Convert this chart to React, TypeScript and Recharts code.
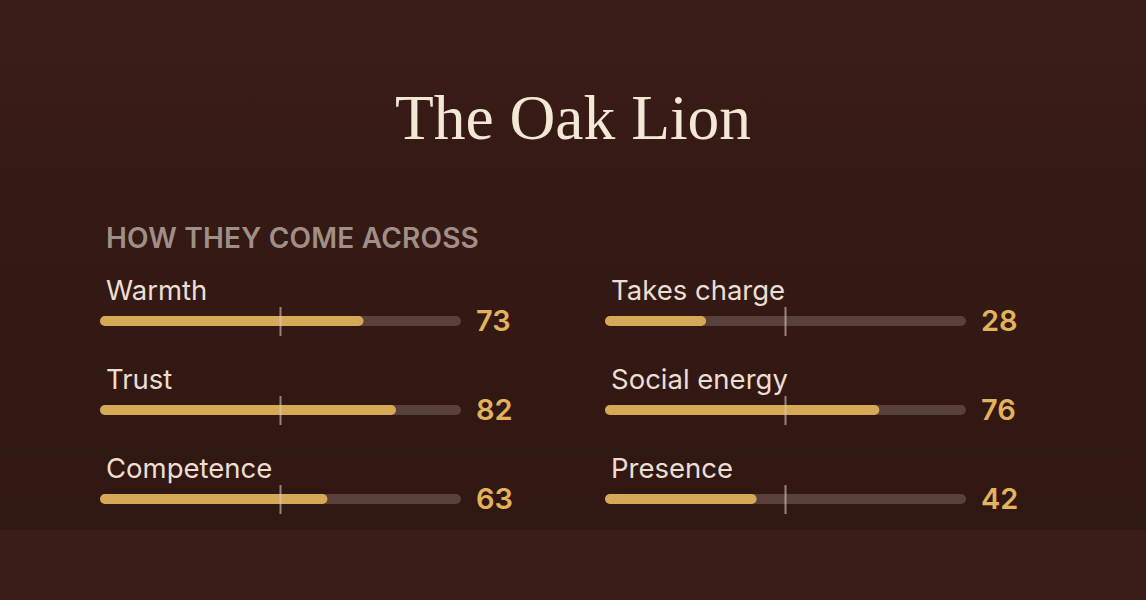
import { BarChart, Bar, XAxis, YAxis, LabelList } from "recharts";

const leftTraits = ["Warmth", "Trust", "Competence"];
const leftScores = [73, 82, 63];
const rightTraits = ["Takes charge", "Social energy", "Presence"];
const rightScores = [28, 76, 42];

const title = "The Oak Lion";
const subtitle = "HOW THEY COME ACROSS";

const SANS = "Inter, 'Noto Sans', sans-serif";

function Track(props: any) {
    const { x, y, width, height } = props;
    return <rect x={x} y={y} width={width} height={height} rx={height / 2} fill="#5a403a" />;
}

function GoldBar(props: any) {
    const { x, y, width, height, background } = props;
    const mid = background.x + background.width / 2;
    const cy = y + height / 2;
    return (
        <g>
            <rect x={x} y={y} width={width} height={height} rx={height / 2} fill="#d6a956" />
            <line x1={mid} x2={mid} y1={cy - 14} y2={cy + 15} stroke="#d8ccc6" strokeOpacity={0.6} strokeWidth={2} />
        </g>
    );
}

function NameLabel(props: any) {
    const { x, y, value } = props;
    return (
        <text x={x + 6} y={y - 16} fill="#ecdfd2" fontSize={27.5} fontFamily={SANS}>
            {value}
        </text>
    );
}

function ScoreLabel(props: any) {
    const { y, height, value } = props;
    return (
        <text x={476} y={y + height / 2 + 10} fill="#e2b35c" fontSize={29} fontWeight={600} fontFamily={SANS}>
            {value}
        </text>
    );
}

function Column({ names, scores }: { names: string[]; scores: number[] }) {
    const rows = names.map((name, i) => ({ name, score: scores[i] }));
    return (
        <BarChart
            width={560}
            height={297}
            data={rows}
            layout="vertical"
            margin={{ top: 30, right: 99, bottom: 0, left: 100 }}
        >
            <XAxis type="number" domain={[0, 100]} hide />
            <YAxis type="category" dataKey="name" hide />
            <Bar
                dataKey="score"
                barSize={10}
                radius={5}
                fill="#d6a956"
                background={<Track />}
                shape={<GoldBar />}
                isAnimationActive={false}
            >
                <LabelList dataKey="name" content={<NameLabel />} />
                <LabelList dataKey="score" content={<ScoreLabel />} />
            </Bar>
        </BarChart>
    );
}

export default function App() {
    return (
        <div style={{ position: "relative", width: 1146, height: 600, background: "#3a1c18", overflow: "hidden" }}>
            <style>{`body{margin:0}`}</style>
            <div
                style={{
                    position: "absolute",
                    left: 0,
                    top: 40,
                    width: 1146,
                    height: 490,
                    background: "linear-gradient(180deg, #3a1c18 0%, #341914 35%, #311712 100%)",
                }}
            />
            <div
                style={{
                    position: "absolute",
                    top: 81,
                    width: 1146,
                    textAlign: "center",
                    fontFamily: "'Liberation Serif', serif",
                    fontSize: 63.5,
                    color: "#f3e8d4",
                }}
            >
                {title}
            </div>
            <div
                style={{
                    position: "absolute",
                    left: 106,
                    top: 221,
                    fontFamily: SANS,
                    fontSize: 28,
                    fontWeight: 600,
                    letterSpacing: 0.2,
                    color: "#a08f86",
                }}
            >
                {subtitle}
            </div>
            <div style={{ position: "absolute", left: 0, top: 246 }}>
                <Column names={leftTraits} scores={leftScores} />
            </div>
            <div style={{ position: "absolute", left: 505, top: 246 }}>
                <Column names={rightTraits} scores={rightScores} />
            </div>
        </div>
    );
}
